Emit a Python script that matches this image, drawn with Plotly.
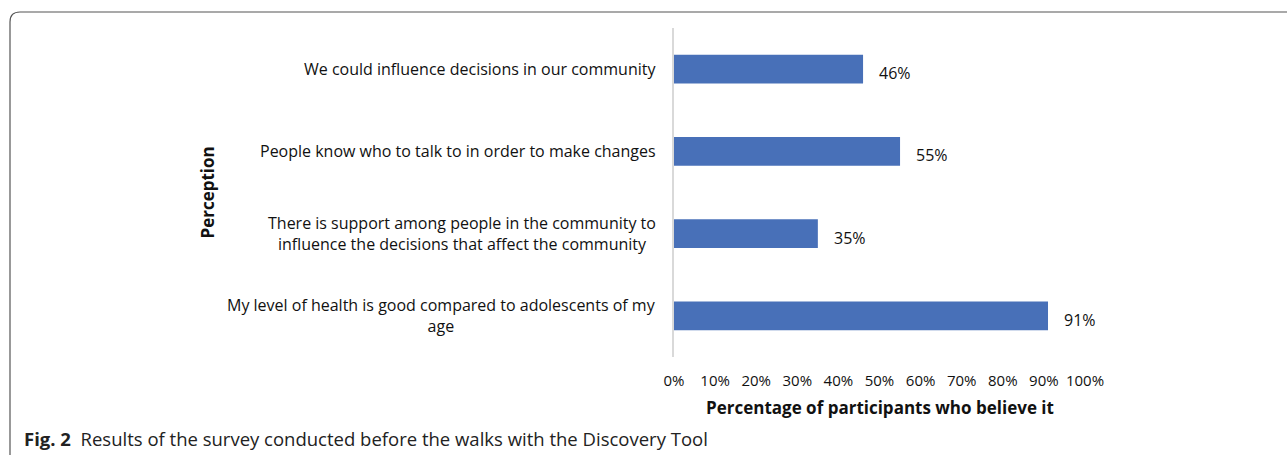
import plotly.graph_objects as go

categories = [
    "We could influence decisions in our community",
    "People know who to talk to in order to make changes",
    "There is support among people in the community to<br>influence the decisions that affect the community",
    "My level of health is good compared to adolescents of my<br>age",
]
values = [46, 55, 35, 91]
tick_vals = [0, 10, 20, 30, 40, 50, 60, 70, 80, 90, 100]
tick_text = [f"{v}%" for v in tick_vals]

W, H = 1287, 455
ML, MR, MT, MB = 674, 202, 28, 98
FONT = "'Open Sans', 'Noto Sans', sans-serif"

fig = go.Figure()
fig.add_trace(go.Bar(
    x=values, y=list(range(len(categories))), orientation="h",
    marker=dict(color="#4870B8", line=dict(width=0)),
    hoverinfo="skip",
))

annotations = []
for i, (c, v) in enumerate(zip(categories, values)):
    annotations.append(dict(
        x=0, xref="paper", y=i, yref="y", text=c, showarrow=False,
        xanchor="right", yanchor="middle", align="center", xshift=-16,
        font=dict(family=FONT, size=16, color="#111"),
    ))
    annotations.append(dict(
        x=v, xref="x", y=i, yref="y", text=f"{v}%", showarrow=False,
        xanchor="left", yanchor="middle", xshift=14, yshift=-4,
        font=dict(family=FONT, size=16, color="#111"),
    ))

annotations.append(dict(
    x=0, xref="paper", y=0.5, yref="paper", text="<b>Perception</b>",
    textangle=-90, showarrow=False, xanchor="center", yanchor="middle",
    xshift=-(ML - 207), font=dict(family=FONT, size=17, color="#111"),
))
annotations.append(dict(
    x=0.5, xref="paper", y=0, yref="paper",
    text="<b>Percentage of participants who believe it</b>",
    showarrow=False, xanchor="center", yanchor="middle", yshift=-50,
    font=dict(family=FONT, size=17, color="#111"),
))
annotations.append(dict(
    x=0, xref="paper", y=0, yref="paper",
    text="<b>Fig. 2</b>  Results of the survey conducted before the walks with the Discovery Tool",
    showarrow=False, xanchor="left", yanchor="middle",
    xshift=-(ML - 22), yshift=-(438 - (H - MB)),
    font=dict(family=FONT, size=18.5, color="#222"),
))

# frame (rounded corner), positioned in pixels relative to the plot area
x0 = 10 - ML
y0 = MT - 12
r = 10
frame_path = (f"M {x0},-{H} L {x0},{y0 - r} Q {x0},{y0} {x0 + r},{y0} L {W},{y0}")

fig.update_layout(
    width=W, height=H,
    margin=dict(l=ML, r=MR, t=MT, b=MB),
    paper_bgcolor="white", plot_bgcolor="white",
    showlegend=False,
    bargap=0.65,
    xaxis=dict(range=[0, 100], tickvals=tick_vals, ticktext=tick_text,
               showgrid=False, zeroline=False, showline=False, ticks="",
               ticklabelstandoff=13,
               tickfont=dict(family=FONT, size=15, color="#111"),
               fixedrange=True),
    yaxis=dict(range=[3.5, -0.5], showticklabels=False, showgrid=False,
               zeroline=False, showline=True, linecolor="#d9d9d9", linewidth=2,
               ticks="", fixedrange=True),
    annotations=annotations,
    shapes=[dict(type="path", xref="paper", yref="paper", xsizemode="pixel",
                 ysizemode="pixel", xanchor=0, yanchor=1, path=frame_path,
                 line=dict(color="#555", width=1.2), layer="above")],
)

fig.write_html("out.html", config={"displayModeBar": False})
